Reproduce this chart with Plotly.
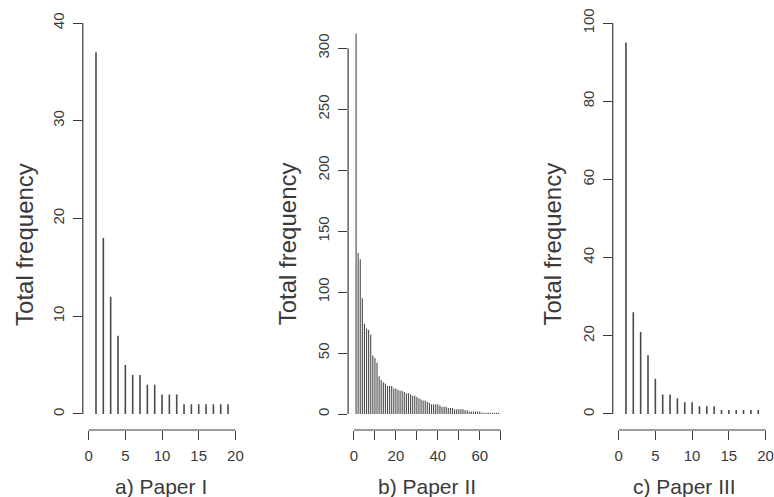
import plotly.graph_objects as go

W, H = 774, 497

# ---------------- data ----------------
a_x = list(range(1, 20))
a_vals = [37, 18, 12, 8, 5, 4, 4, 3, 3, 2, 2, 2, 1, 1, 1, 1, 1, 1, 1]

b_x = list(range(1, 70))
b_vals = [312, 132, 127, 95, 74, 70, 69, 65, 48, 46,
          42, 31, 28, 26, 25, 23, 23, 23, 21, 21,
          20, 19, 19, 18, 17, 17, 16, 15, 15, 14,
          13, 12, 11, 11, 10, 9, 8, 8, 8, 8,
          7, 6, 6, 6, 5, 5, 5, 4, 4, 4,
          4, 4, 3, 3, 2, 2, 2, 2, 2, 2,
          1, 1, 1, 1, 1, 1, 1, 1, 1]

c_x = list(range(1, 20))
c_vals = [95, 26, 21, 15, 9, 5, 5, 4, 3, 3, 2, 2, 2, 1, 1, 1, 1, 1, 1]

a_xticks = [0, 5, 10, 15, 20]
a_xtext = ["0", "5", "10", "15", "20"]
a_yticks = [0, 10, 20, 30, 40]

b_xticks = [0, 10, 20, 30, 40, 50, 60, 70]
b_xtext = ["0", "", "20", "", "40", "", "60", ""]
b_yticks = [0, 50, 100, 150, 200, 250, 300]

c_xticks = [0, 5, 10, 15, 20]
c_xtext = ["0", "5", "10", "15", "20"]
c_yticks = [0, 20, 40, 60, 80, 100]

y_title = "Total frequency"
panel_titles = ["a) Paper I", "b) Paper II", "c) Paper III"]

# ---------------- styling ----------------
FONT = "Liberation Sans, Arial, sans-serif"
INK = "#3a3a3a"
BAR = "#4a4a4a"


def stems(xv, vals):
    xs, ys = [], []
    for x, v in zip(xv, vals):
        xs += [x, x, None]
        ys += [0, v, None]
    return xs, ys


fig = go.Figure()
panels = [
    (a_x, a_vals, 1.6),
    (b_x, b_vals, 1.1),
    (c_x, c_vals, 1.6),
]
for i, (xv, vals, lw) in enumerate(panels, start=1):
    xs, ys = stems(xv, vals)
    fig.add_trace(go.Scatter(x=xs, y=ys, mode="lines",
                             line=dict(color=BAR, width=lw),
                             xaxis=f"x{i}" if i > 1 else "x",
                             yaxis=f"y{i}" if i > 1 else "y",
                             hoverinfo="skip", showlegend=False))

ydom = [(497 - 430) / H, (497 - 7.4) / H]
xdoms = [(83 / W, 241.9 / W), (349 / W, 507.9 / W), (614.3 / W, 773.5 / W)]
xranges = [(-0.8, 20.8), (-2.8, 72.8), (-0.8, 20.8)]
yranges = [(-1.64, 41.6), (-13.1, 333.5), (-4.1, 104)]
xtick_sets = [(a_xticks, a_xtext), (b_xticks, b_xtext), (c_xticks, c_xtext)]
ytick_sets = [a_yticks, b_yticks, c_yticks]

common = dict(showgrid=False, zeroline=False, showline=False,
              ticks="outside", ticklen=9, tickwidth=1, tickcolor=INK,
              tickfont=dict(family=FONT, size=15, color=INK))

layout = {}
for i in range(3):
    suf = "" if i == 0 else str(i + 1)
    layout[f"xaxis{suf}"] = dict(domain=list(xdoms[i]), range=list(xranges[i]),
                                 anchor=f"y{suf}", tickmode="array",
                                 tickvals=xtick_sets[i][0], ticktext=xtick_sets[i][1],
                                 ticklabelstandoff=3, **common)
    layout[f"yaxis{suf}"] = dict(domain=ydom, range=list(yranges[i]),
                                 anchor=f"x{suf}", tickmode="array",
                                 tickvals=ytick_sets[i], tickangle=-90,
                                 ticklabelstandoff=3, **common)

shapes = []
for i in range(3):
    suf = "" if i == 0 else str(i + 1)
    xt = xtick_sets[i][0]
    yt = ytick_sets[i]
    # y axis line spanning first to last tick
    shapes.append(dict(type="line", xref=f"x{suf} domain", yref=f"y{suf}",
                       x0=0, x1=0, y0=yt[0], y1=yt[-1],
                       line=dict(color=INK, width=1.2)))
    # x axis line spanning first to last tick
    shapes.append(dict(type="line", xref=f"x{suf}", yref=f"y{suf} domain",
                       x0=xt[0], x1=xt[-1], y0=0, y1=0,
                       line=dict(color=INK, width=1.2)))

annotations = []
ytitle_x = [24, 288, 553]
xtitle_x = [161.5, 428, 686]
for i in range(3):
    annotations.append(dict(text=y_title, xref="paper", yref="paper",
                            x=ytitle_x[i] / W, y=1 - 244 / H, textangle=-90,
                            showarrow=False, xanchor="center", yanchor="middle",
                            font=dict(family=FONT, size=24, color=INK)))
    annotations.append(dict(text=panel_titles[i], xref="paper", yref="paper",
                            x=xtitle_x[i] / W, y=1 - 486 / H,
                            showarrow=False, xanchor="center", yanchor="middle",
                            font=dict(family=FONT, size=21, color=INK)))

fig.update_layout(width=W, height=H, margin=dict(l=0, r=0, t=0, b=0),
                  paper_bgcolor="white", plot_bgcolor="white",
                  shapes=shapes, annotations=annotations, **layout)

fig.write_html("out.html")
